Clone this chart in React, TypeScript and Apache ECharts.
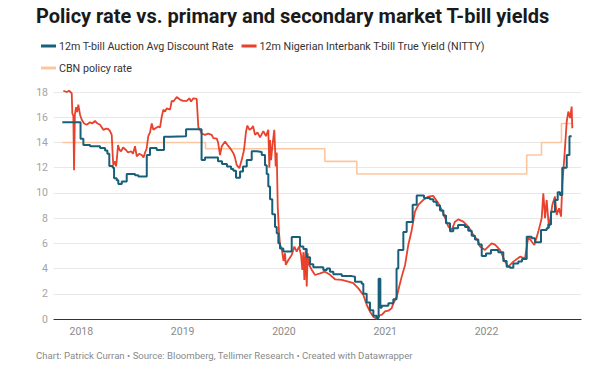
import React, { useEffect, useRef } from "react";
import * as echarts from "echarts";

// Decimal-year dates
const auctionDates = [
  2017.812, 2017.992, 2018.02, 2018.086, 2018.185, 2018.234, 2018.257, 2018.276, 2018.31, 2018.323,
  2018.349, 2018.365, 2018.399, 2018.448, 2018.53, 2018.563, 2018.646, 2018.678, 2018.744, 2018.816,
  2018.876, 2019.034, 2019.187, 2019.221, 2019.349, 2019.389, 2019.438, 2019.478, 2019.501, 2019.527,
  2019.567, 2019.596, 2019.633, 2019.682, 2019.732, 2019.781, 2019.813, 2019.83, 2019.846, 2019.863,
  2019.885, 2019.912, 2019.929, 2019.945, 2019.961, 2019.994, 2020.077, 2020.159, 2020.192, 2020.225,
  2020.258, 2020.29, 2020.389, 2020.423, 2020.455, 2020.488, 2020.571, 2020.669, 2020.702, 2020.768,
  2020.784, 2020.817, 2020.85, 2020.883, 2020.916, 2020.935, 2020.952, 2020.965, 2021.031, 2021.08,
  2021.112, 2021.129, 2021.179, 2021.212, 2021.271, 2021.311, 2021.383, 2021.442, 2021.475, 2021.508,
  2021.541, 2021.574, 2021.6, 2021.64, 2021.672, 2021.719, 2021.788, 2021.82, 2021.854, 2021.886,
  2021.919, 2021.953, 2021.995, 2022.044, 2022.116, 2022.166, 2022.199, 2022.232, 2022.265, 2022.314,
  2022.35, 2022.397, 2022.446, 2022.479, 2022.538, 2022.594, 2022.61, 2022.637, 2022.676, 2022.703,
  2022.726, 2022.748, 2022.792, 2022.819, 2022.841,
];
const auctionRates = [
  15.6, 14.3, 13.8, 13.7, 13.55, 13.36, 13.1, 12.14, 12.0, 11.17,
  11.0, 10.7, 10.9, 11.5, 11.4, 11.3, 13.0, 13.55, 13.4, 14.45,
  14.5, 15.05, 12.6, 12.8, 12.5, 12.3, 12.1, 11.9, 11.75, 11.2,
  11.7, 12.1, 12.6, 13.3, 13.25, 13.0, 12.2, 11.5, 10.5, 9.5,
  8.3, 7.3, 6.8, 6.0, 5.6, 5.35, 6.5, 5.74, 5.55, 4.9,
  4.35, 4.1, 3.89, 4.0, 3.75, 3.55, 3.4, 3.35, 2.96, 2.8,
  2.0, 1.3, 0.7, 0.25, 0.08, 3.2, 0.9, 1.05, 1.24, 1.56,
  4.0, 5.48, 6.9, 7.7, 9.05, 9.8, 9.6, 9.5, 9.3, 9.0,
  8.6, 8.2, 7.6, 6.95, 7.2, 7.45, 7.3, 7.0, 6.6, 6.3,
  5.9, 5.0, 5.2, 5.48, 5.3, 4.6, 4.15, 4.07, 4.4, 4.55,
  4.76, 6.53, 6.4, 6.08, 7.06, 7.2, 7.5, 8.5, 9.44, 10.05,
  9.84, 12.0, 13.0, 14.5, 14.5,
];

const nittyDates = [
  2017.822, 2017.856, 2017.879, 2017.905, 2017.911, 2017.921, 2017.928, 2017.936, 2017.948, 2017.958,
  2017.97, 2017.987, 2018.004, 2018.027, 2018.053, 2018.086, 2018.106, 2018.135, 2018.16, 2018.185,
  2018.217, 2018.244, 2018.264, 2018.283, 2018.3, 2018.31, 2018.316, 2018.333, 2018.343, 2018.352,
  2018.362, 2018.377, 2018.392, 2018.412, 2018.441, 2018.461, 2018.491, 2018.51, 2018.53, 2018.547,
  2018.57, 2018.596, 2018.614, 2018.629, 2018.644, 2018.661, 2018.678, 2018.695, 2018.711, 2018.728,
  2018.76, 2018.777, 2018.794, 2018.81, 2018.826, 2018.843, 2018.876, 2018.892, 2018.908, 2018.942,
  2018.974, 2019.004, 2019.041, 2019.066, 2019.083, 2019.106, 2019.139, 2019.155, 2019.172, 2019.189,
  2019.221, 2019.251, 2019.287, 2019.303, 2019.337, 2019.35, 2019.369, 2019.386, 2019.419, 2019.443,
  2019.468, 2019.501, 2019.517, 2019.534, 2019.56, 2019.572, 2019.583, 2019.606, 2019.626, 2019.639,
  2019.66, 2019.682, 2019.695, 2019.715, 2019.739, 2019.764, 2019.797, 2019.823, 2019.846, 2019.856,
  2019.863, 2019.873, 2019.886, 2019.905, 2019.919, 2019.929, 2019.939, 2019.952, 2019.962, 2019.978,
  2019.996, 2020.011, 2020.018, 2020.044, 2020.077, 2020.103, 2020.126, 2020.149, 2020.169, 2020.182,
  2020.192, 2020.202, 2020.215, 2020.225, 2020.235, 2020.241, 2020.275, 2020.307, 2020.357, 2020.406,
  2020.455, 2020.505, 2020.571, 2020.636, 2020.685, 2020.735, 2020.784, 2020.818, 2020.85, 2020.883,
  2020.916, 2020.949, 2020.966, 2020.998, 2021.031, 2021.064, 2021.08, 2021.114, 2021.139, 2021.163,
  2021.196, 2021.228, 2021.262, 2021.294, 2021.327, 2021.376, 2021.426, 2021.475, 2021.524, 2021.574,
  2021.623, 2021.657, 2021.689, 2021.722, 2021.771, 2021.82, 2021.87, 2021.919, 2021.936, 2021.985,
  2022.051, 2022.084, 2022.133, 2022.183, 2022.215, 2022.265, 2022.331, 2022.38, 2022.413, 2022.446,
  2022.472, 2022.512, 2022.545, 2022.561, 2022.578, 2022.594, 2022.617, 2022.65, 2022.676, 2022.693,
  2022.716, 2022.736, 2022.748, 2022.768, 2022.792, 2022.808, 2022.825, 2022.841, 2022.847,
];
const nittyYields = [
  18.1, 18.0, 18.1, 17.9, 16.3, 16.1, 11.8, 16.2, 16.8, 16.4,
  17.0, 16.2, 15.8, 15.5, 15.4, 15.6, 15.5, 15.7, 15.5, 15.4,
  15.0, 15.1, 15.08, 14.9, 14.6, 12.9, 12.2, 12.5, 12.1, 12.8,
  13.8, 13.4, 13.3, 13.6, 13.4, 13.2, 13.3, 13.1, 13.7, 12.9,
  13.1, 13.0, 12.8, 13.2, 13.5, 14.5, 14.8, 15.5, 15.0, 15.1,
  15.26, 15.2, 16.06, 16.6, 16.45, 16.7, 16.6, 17.3, 17.25, 17.6,
  17.4, 17.3, 17.3, 17.5, 17.25, 17.5, 17.45, 15.2, 15.0, 14.7,
  14.6, 14.7, 14.6, 14.34, 14.3, 14.0, 13.0, 13.7, 14.07, 13.8,
  13.55, 13.15, 12.8, 12.2, 11.96, 12.3, 12.6, 13.4, 14.87, 15.34,
  15.0, 15.13, 15.3, 14.6, 14.8, 14.4, 14.9, 14.5, 15.0, 12.0,
  14.2, 12.6, 13.7, 15.0, 12.1, 13.2, 8.9, 6.8, 5.87, 5.6,
  4.6, 5.21, 4.29, 4.68, 5.08, 5.74, 5.34, 5.74, 5.08, 3.89,
  5.3, 3.1, 5.48, 2.57, 5.2, 4.42, 3.89, 3.49, 3.62, 3.75,
  3.5, 3.15, 3.1, 2.96, 2.85, 2.43, 1.9, 1.11, 0.58, 0.18,
  0.02, 0.3, 0.32, 0.6, 0.66, 0.85, 1.24, 1.77, 2.6, 3.36,
  4.29, 5.87, 7.06, 8.52, 9.05, 9.44, 9.71, 9.76, 9.18, 8.39,
  7.33, 7.06, 7.72, 7.9, 7.72, 7.33, 6.67, 6.14, 5.74, 5.48,
  6.0, 5.9, 5.48, 4.55, 4.15, 4.55, 4.94, 4.81, 6.53, 6.14,
  5.87, 6.93, 8.0, 9.97, 8.0, 9.44, 7.2, 9.05, 9.71, 8.25,
  8.78, 8.12, 10.63, 12.75, 15.66, 16.45, 15.93, 16.85, 15.13,
];

const policyDates = [2017.812, 2019.226, 2020.404, 2020.72, 2022.397, 2022.543, 2022.74, 2022.841];
const policyRates = [14, 13.5, 12.5, 11.5, 13, 14, 15.5, 15.5];

const yearTicks = [2018, 2019, 2020, 2021, 2022];

const seriesNames = [
  "12m T-bill Auction Avg Discount Rate",
  "12m Nigerian Interbank T-bill True Yield (NITTY)",
  "CBN policy rate",
];

const pair = (xs: number[], ys: number[]) => xs.map((x, i) => [x, ys[i]]);

const FONT = "Roboto, 'Noto Sans', sans-serif";

export default function App() {
  const ref = useRef<HTMLDivElement>(null);
  useEffect(() => {
    if (!ref.current) return;
    const chart = echarts.init(ref.current, undefined, { renderer: "svg" });
    chart.setOption({
      animation: false,
      textStyle: { fontFamily: FONT },
      grid: { left: 54, right: 26, top: 92, bottom: 55, containLabel: false, outerBoundsMode: "none" },
      legend: {
        data: seriesNames,
        left: 36,
        top: 34,
        width: 490,
        icon: "rect",
        itemWidth: 15,
        itemHeight: 3,
        itemGap: 8,
        textStyle: { fontSize: 10.7, color: "#333", fontFamily: FONT, lineHeight: 14, padding: [0, 0, 0, -2] },
        selectedMode: false,
      },
      graphic: [
        {
          type: "text",
          left: 36,
          top: 6,
          style: {
            text: "Policy rate vs. primary and secondary market T-bill yields",
            fontSize: 20,
            fontWeight: 700,
            fontFamily: FONT,
            fill: "#1a1a1a",
          },
        },
        {
          type: "text",
          left: 36,
          top: 350,
          style: {
            text: "Chart: Patrick Curran • Source: Bloomberg, Tellimer Research • Created with Datawrapper",
            fontSize: 9.6,
            fontFamily: FONT,
            fill: "#8a8a8a",
          },
        },
      ],
      xAxis: {
        type: "value",
        min: 2017.73,
        max: 2022.933,
        axisLine: { show: true, onZero: true, lineStyle: { color: "#333", width: 1.2 } },
        axisTick: { show: false },
        splitLine: { show: false },
        axisLabel: {
          customValues: yearTicks,
          formatter: (v: number) => String(Math.round(v)),
          color: "#8a8a8a",
          fontSize: 10.5,
          margin: 7,
          fontFamily: FONT,
        },
      },
      yAxis: {
        type: "value",
        min: 0,
        max: 18,
        interval: 2,
        axisLine: { show: false },
        axisTick: { show: false },
        splitLine: { lineStyle: { color: "#e8e8e8", width: 1 } },
        axisLabel: { color: "#a3a3a3", fontSize: 10.5, margin: 6, fontFamily: FONT },
      },
      series: [
        {
          name: seriesNames[2],
          type: "line",
          step: "end",
          data: pair(policyDates, policyRates),
          showSymbol: false,
          clip: false,
          color: "#fcc6a1",
          lineStyle: { width: 1.6, color: "#fcc6a1" },
          z: 1,
        },
        {
          name: seriesNames[1],
          type: "line",
          data: pair(nittyDates, nittyYields),
          showSymbol: false,
          clip: false,
          color: "#e8412c",
          lineStyle: { width: 1.8, color: "#e8412c" },
          z: 2,
        },
        {
          name: seriesNames[0],
          type: "line",
          step: "end",
          data: pair(auctionDates, auctionRates),
          showSymbol: false,
          clip: false,
          color: "#18607a",
          lineStyle: { width: 2, color: "#18607a" },
          z: 3,
        },
      ],
    });
    return () => chart.dispose();
  }, []);
  return (
    <div
      ref={ref}
      style={{ position: "fixed", left: 0, top: 0, width: 607, height: 374, background: "#fff" }}
    />
  );
}
